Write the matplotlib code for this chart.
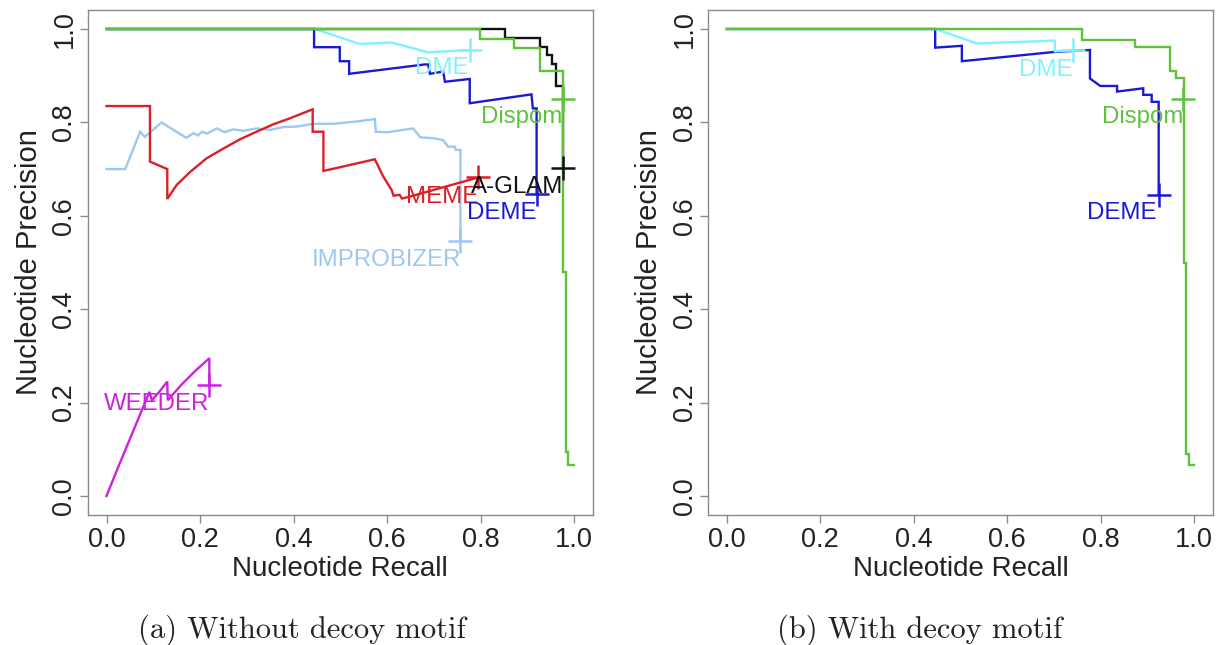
import matplotlib
matplotlib.use("Agg")
import matplotlib.pyplot as plt

# ---------------- data ----------------
ticks = [0.0, 0.2, 0.4, 0.6, 0.8, 1.0]
tick_labels = ["0.0", "0.2", "0.4", "0.6", "0.8", "1.0"]

# Panel (a) without decoy motif
a_improbizer_x = [0.0, 0.040, 0.072, 0.082, 0.118, 0.143, 0.171, 0.186, 0.195, 0.205, 0.215, 0.236,
                  0.253, 0.271, 0.293, 0.321, 0.350, 0.378, 0.407, 0.442, 0.485, 0.535, 0.574, 0.576,
                  0.600, 0.656, 0.671, 0.700, 0.720, 0.731, 0.745, 0.747, 0.757, 0.757]
a_improbizer_y = [0.700, 0.700, 0.780, 0.769, 0.800, 0.784, 0.767, 0.777, 0.772, 0.780, 0.776, 0.787,
                  0.779, 0.785, 0.782, 0.787, 0.784, 0.790, 0.791, 0.797, 0.797, 0.802, 0.807, 0.780,
                  0.779, 0.787, 0.768, 0.766, 0.762, 0.748, 0.748, 0.741, 0.741, 0.545]

a_meme_x = [0.0, 0.093, 0.093, 0.130, 0.130, 0.150, 0.179, 0.214, 0.250, 0.286, 0.321, 0.357, 0.393,
            0.441, 0.441, 0.464, 0.464, 0.574, 0.592, 0.610, 0.614, 0.627, 0.632, 0.645, 0.795]
a_meme_y = [0.835, 0.835, 0.716, 0.700, 0.636, 0.666, 0.694, 0.723, 0.744, 0.764, 0.780, 0.796, 0.809,
            0.828, 0.780, 0.780, 0.696, 0.721, 0.684, 0.655, 0.643, 0.645, 0.637, 0.640, 0.682]

a_weeder_x = [0.0, 0.025, 0.050, 0.072, 0.092, 0.097, 0.112, 0.130, 0.131, 0.160, 0.190, 0.220, 0.220]
a_weeder_y = [0.0, 0.062, 0.122, 0.175, 0.223, 0.205, 0.222, 0.245, 0.205, 0.238, 0.268, 0.295, 0.238]

a_deme_x = [0.0, 0.444, 0.444, 0.499, 0.499, 0.519, 0.519, 0.680, 0.688, 0.692, 0.720, 0.724,
            0.777, 0.777, 0.909, 0.912, 0.920, 0.920]
a_deme_y = [1.0, 1.0, 0.961, 0.961, 0.931, 0.931, 0.904, 0.924, 0.924, 0.904, 0.909, 0.887,
            0.893, 0.841, 0.860, 0.830, 0.830, 0.647]

a_dme_x = [0.0, 0.446, 0.541, 0.610, 0.688, 0.777]
a_dme_y = [1.0, 1.0, 0.968, 0.971, 0.950, 0.955]

a_aglam_x = [0.0, 0.852, 0.852, 0.927, 0.927, 0.943, 0.943, 0.952, 0.952, 0.961, 0.961, 0.977, 0.977]
a_aglam_y = [1.0, 1.0, 0.980, 0.980, 0.962, 0.962, 0.944, 0.944, 0.925, 0.925, 0.878, 0.878, 0.702]

a_dispom_x = [0.0, 0.799, 0.799, 0.872, 0.872, 0.927, 0.927, 0.977, 0.977, 0.983, 0.983, 0.988,
              0.988, 1.0]
a_dispom_y = [1.0, 1.0, 0.978, 0.978, 0.960, 0.960, 0.910, 0.910, 0.480, 0.480, 0.095, 0.095,
              0.066, 0.066]

# Panel (b) with decoy motif
b_deme_x = [0.0, 0.446, 0.446, 0.503, 0.503, 0.703, 0.777, 0.777, 0.799, 0.835, 0.835, 0.891,
            0.891, 0.909, 0.909, 0.924, 0.924]
b_deme_y = [1.0, 1.0, 0.960, 0.964, 0.931, 0.951, 0.955, 0.894, 0.878, 0.878, 0.866, 0.873,
            0.859, 0.859, 0.844, 0.844, 0.645]

b_dme_x = [0.0, 0.446, 0.535, 0.702, 0.702, 0.740]
b_dme_y = [1.0, 1.0, 0.969, 0.975, 0.952, 0.955]

b_dispom_x = [0.0, 0.761, 0.761, 0.873, 0.873, 0.948, 0.948, 0.961, 0.961, 0.978, 0.978, 0.983,
              0.983, 0.988, 0.988, 1.0]
b_dispom_y = [1.0, 1.0, 0.976, 0.976, 0.961, 0.961, 0.910, 0.910, 0.894, 0.894, 0.498, 0.498,
              0.091, 0.091, 0.066, 0.066]

# end-point markers (x, y) and label anchors (right edge x, centre y)
a_markers = {"IMPROBIZER": (0.757, 0.545), "MEME": (0.795, 0.682), "WEEDER": (0.220, 0.238),
             "DEME": (0.920, 0.647), "DME": (0.777, 0.955), "A-GLAM": (0.977, 0.702),
             "Dispom": (0.977, 0.850)}
a_labels = {"IMPROBIZER": (0.758, 0.505), "MEME": (0.795, 0.641), "WEEDER": (0.220, 0.197),
            "DEME": (0.920, 0.605), "DME": (0.775, 0.916), "A-GLAM": (0.977, 0.661),
            "Dispom": (0.976, 0.811)}
b_markers = {"DEME": (0.924, 0.645), "DME": (0.740, 0.955), "Dispom": (0.977, 0.850)}
b_labels = {"DEME": (0.920, 0.605), "DME": (0.740, 0.912), "Dispom": (0.976, 0.811)}

colors = {"IMPROBIZER": "#9cc8f2", "MEME": "#dc1f26", "WEEDER": "#cc22dd", "DEME": "#1a1ad6",
          "DME": "#7ff2ff", "A-GLAM": "#111111", "Dispom": "#5ec23a"}

# ---------------- drawing ----------------
W, H = 1218, 645
fig = plt.figure(figsize=(W / 100, H / 100), dpi=100)
sans = ["Liberation Sans", "DejaVu Sans"]
lw = 1.7


def setup(ax):
    ax.set_xlim(-0.04, 1.04)
    ax.set_ylim(-0.04, 1.04)
    for s in ax.spines.values():
        s.set_color("#8a8a8a")
        s.set_linewidth(1.0)
    ax.set_xticks(ticks)
    ax.set_xticklabels(tick_labels, fontsize=19.5, family=sans, color="#222222")
    ax.set_yticks(ticks)
    ax.set_yticklabels(tick_labels, fontsize=19.5, family=sans, color="#222222",
                       rotation=90)
    for lab in ax.get_yticklabels():
        lab.set_va("center")
    ax.tick_params(axis="both", direction="out", length=6, width=1.0, color="#8a8a8a")
    ax.tick_params(axis="x", pad=3)
    ax.tick_params(axis="y", pad=1.5)
    ax.set_xlabel("Nucleotide Recall", fontsize=20, family=sans, color="#222222", labelpad=2)
    ax.set_ylabel("Nucleotide Precision", fontsize=21, family=sans, color="#222222", labelpad=6)


def draw(ax, series, markers, labels):
    for name, xs, ys in series:
        ax.plot(xs, ys, color=colors[name], lw=lw, solid_joinstyle="miter")
    for name, (mx, my) in markers.items():
        ax.plot([mx], [my], marker="+", ms=17, mew=1.8, color=colors[name], ls="none")
    for name, (tx, ty) in labels.items():
        ax.text(tx, ty, name, ha="right", va="center", fontsize=17.3, family=sans,
                color=colors[name])


axw = 504.9 / W
axh = 504.4 / H
ax1 = fig.add_axes([87.8 / W, (H - 514.7) / H, axw, axh])
ax2 = fig.add_axes([708.0 / W, (H - 514.7) / H, axw, axh])
setup(ax1)
setup(ax2)

draw(ax1, [("IMPROBIZER", a_improbizer_x, a_improbizer_y),
           ("MEME", a_meme_x, a_meme_y),
           ("WEEDER", a_weeder_x, a_weeder_y),
           ("DEME", a_deme_x, a_deme_y),
           ("DME", a_dme_x, a_dme_y),
           ("A-GLAM", a_aglam_x, a_aglam_y),
           ("Dispom", a_dispom_x, a_dispom_y)], a_markers, a_labels)

draw(ax2, [("DEME", b_deme_x, b_deme_y),
           ("DME", b_dme_x, b_dme_y),
           ("Dispom", b_dispom_x, b_dispom_y)], b_markers, b_labels)

fig.text(302 / W, (H - 630) / H, "(a) Without decoy motif", ha="center", va="center",
         fontsize=22, family=["cmr10", "DejaVu Serif"], color="#222222")
fig.text(920 / W, (H - 630) / H, "(b) With decoy motif", ha="center", va="center",
         fontsize=22, family=["cmr10", "DejaVu Serif"], color="#222222")

fig.savefig("out.png", dpi=100)
